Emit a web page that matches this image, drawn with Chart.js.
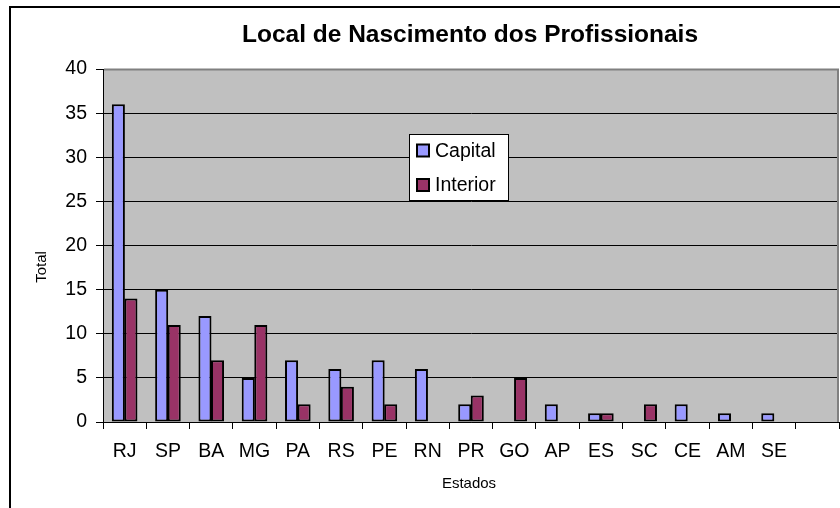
<!DOCTYPE html>
<html>
<head>
<meta charset="utf-8">
<script src="https://cdn.jsdelivr.net/npm/chart.js@4/dist/chart.umd.min.js"></script>
<style>
  html, body { margin:0; padding:0; background:#fff; }
  #wrap { width:840px; height:508px; position:relative; }
</style>
</head>
<body>
<div id="wrap"><canvas id="c" width="840" height="508"></canvas></div>
<script>
const titleText = 'Local de Nascimento dos Profissionais';
const xTitle = 'Estados';
const yTitle = 'Total';
const categories = ['RJ','SP','BA','MG','PA','RS','PE','RN','PR','GO','AP','ES','SC','CE','AM','SE',''];
const capital  = [36,15,12,5,7,6,7,6,2,0,2,1,0,2,1,1,null];
const interior = [14,11,7,11,2,4,2,0,3,5,0,1,2,0,0,0,null];
const seriesNames = ['Capital','Interior'];
const yTicks = [0,5,10,15,20,25,30,35,40];

const FONT = '"Liberation Sans", Arial, sans-serif';

const deco = {
  id: 'deco',
  beforeDraw(chart) {
    const {ctx, chartArea: a} = chart;
    ctx.save();
    ctx.fillStyle = '#fff';
    ctx.fillRect(0, 0, chart.width, chart.height);
    ctx.fillStyle = '#C0C0C0';
    ctx.fillRect(a.left, a.top, a.right - a.left, a.bottom - a.top);
    // outer frame
    ctx.fillStyle = '#000';
    ctx.fillRect(9, 6, 2, chart.height - 6);
    ctx.fillRect(9, 6, chart.width - 9, 2);
    // title
    ctx.fillStyle = '#000';
    ctx.font = 'bold 24.5px ' + FONT;
    ctx.textAlign = 'center';
    ctx.textBaseline = 'alphabetic';
    ctx.fillText(titleText, 470, 42);
    ctx.restore();
  },
  beforeDatasetsDraw(chart) {
    const {ctx, chartArea: a} = chart;
    ctx.save();
    ctx.strokeStyle = '#808080';
    ctx.lineWidth = 2;
    ctx.beginPath();
    ctx.moveTo(a.left + 1, a.top + 0.5);
    ctx.lineTo(a.right - 1, a.top + 0.5);
    ctx.lineTo(a.right - 1, a.bottom);
    ctx.stroke();
    ctx.restore();
  },
  afterDraw(chart) {
    const {ctx} = chart;
    ctx.save();
    // axis titles
    ctx.fillStyle = '#000';
    ctx.font = '15px ' + FONT;
    ctx.textAlign = 'center';
    ctx.textBaseline = 'middle';
    ctx.fillText(xTitle, 469, 484);
    ctx.save();
    ctx.translate(42, 267);
    ctx.rotate(-Math.PI / 2);
    ctx.fillText(yTitle, 0, 0);
    ctx.restore();
    // legend
    ctx.fillStyle = '#fff';
    ctx.fillRect(409, 134, 99, 66);
    ctx.strokeStyle = '#000';
    ctx.lineWidth = 1;
    ctx.strokeRect(409.5, 134.5, 99, 66);
    const ys = [150.5, 185];
    chart.data.datasets.forEach((ds, i) => {
      const y = ys[i];
      ctx.fillStyle = ds.backgroundColor;
      ctx.fillRect(417, y - 6, 12, 12);
      ctx.strokeStyle = '#000';
      ctx.lineWidth = 2;
      ctx.strokeRect(417, y - 6, 12, 12);
      ctx.fillStyle = '#000';
      ctx.font = '19.5px ' + FONT;
      ctx.textAlign = 'left';
      ctx.textBaseline = 'middle';
      ctx.fillText(ds.label, 435, y + 1);
    });
    ctx.restore();
  }
};

new Chart(document.getElementById('c'), {
  type: 'bar',
  data: {
    labels: categories,
    datasets: [
      { label: seriesNames[0], data: capital, backgroundColor: '#9999FF', borderColor: '#000', borderWidth: 2, borderSkipped: false },
      { label: seriesNames[1], data: interior, backgroundColor: '#993366', borderColor: '#000', borderWidth: 2, borderSkipped: false }
    ]
  },
  options: {
    responsive: false,
    animation: false,
    devicePixelRatio: 1,
    layout: { padding: { left: 10, top: 69, right: 1, bottom: 0 } },
    datasets: { bar: { categoryPercentage: 0.58, barPercentage: 1.04 } },
    plugins: {
      legend: { display: false },
      title: { display: false },
      tooltip: { enabled: false }
    },
    scales: {
      x: {
        afterFit(scale) { scale.height = 86; },
        offset: true,
        grid: { display: true, drawOnChartArea: false, drawTicks: true, tickLength: 7, tickColor: '#000', offset: true },
        border: { display: true, color: '#000', width: 1 },
        ticks: { color: '#000', font: { family: FONT, size: 19.5 }, padding: 11, maxRotation: 0, autoSkip: false }
      },
      y: {
        afterFit(scale) { scale.width = 93; },
        min: 0, max: 40,
        afterBuildTicks(scale) { scale.ticks = yTicks.map(v => ({ value: v })); },
        grid: {
          color: (c) => (c.tick && c.tick.value === 40) ? 'rgba(0,0,0,0)' : '#000',
          lineWidth: 1, tickLength: 7, tickColor: '#000'
        },
        border: { display: true, color: '#000', width: 1 },
        ticks: { color: '#000', font: { family: FONT, size: 19.5 }, padding: 9 }
      }
    }
  },
  plugins: [deco]
});
</script>
</body>
</html>
